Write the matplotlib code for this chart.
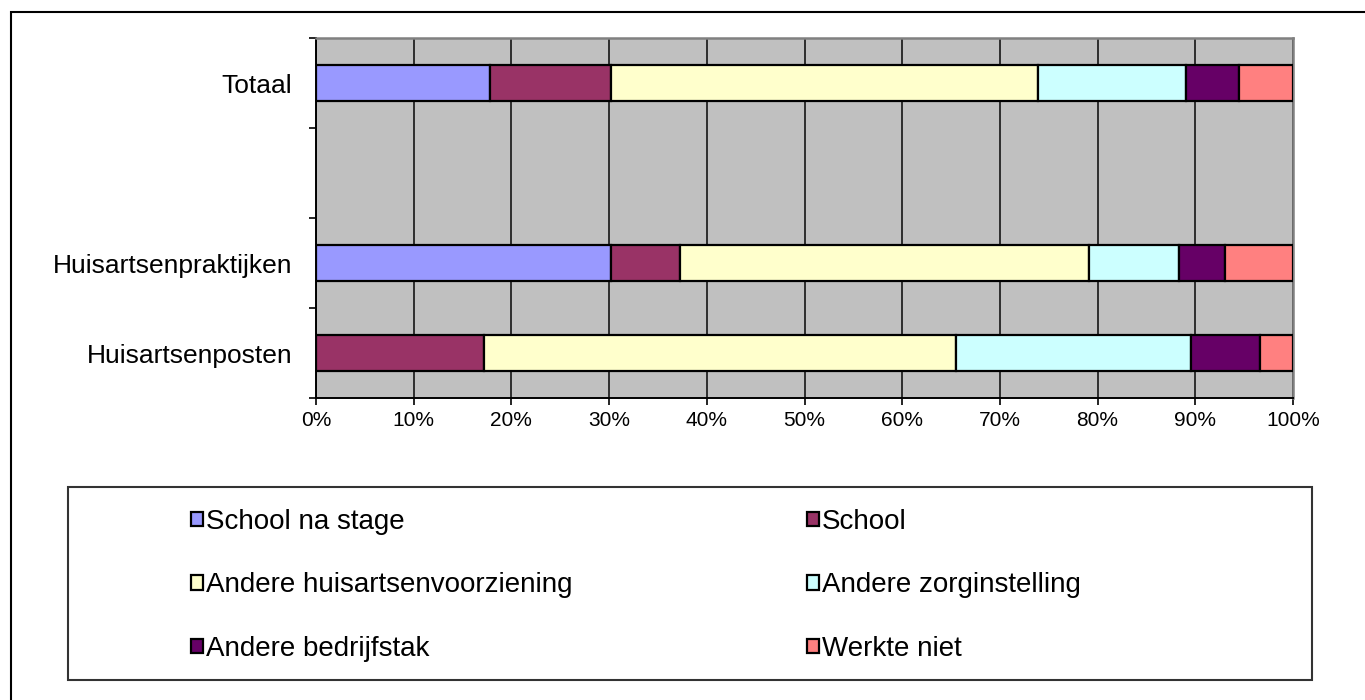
import matplotlib.pyplot as plt
import numpy as np
from matplotlib.patches import Rectangle

plt.rcParams['font.family'] = ['Liberation Sans', 'DejaVu Sans']

# row labels top to bottom; the second slot is empty in the original
rows = ['Totaal', '', 'Huisartsenpraktijken', 'Huisartsenposten']
series = ['School na stage', 'School', 'Andere huisartsenvoorziening',
          'Andere zorginstelling', 'Andere bedrijfstak', 'Werkte niet']
colors = ['#9999FF', '#993366', '#FFFFCC', '#CCFFFF', '#660066', '#FF8080']

# percentages per row (Totaal, Huisartsenpraktijken, Huisartsenposten)
school_na_stage = [17.8, 30.2, 0.0]
school = [12.4, 7.1, 17.2]
andere_huisarts = [43.7, 41.8, 48.3]
andere_zorg = [15.1, 9.2, 24.1]
andere_bedrijf = [5.5, 4.7, 7.0]
werkte_niet = [5.5, 7.0, 3.4]

values = [school_na_stage, school, andere_huisarts, andere_zorg,
          andere_bedrijf, werkte_niet]
filled = [i for i, r in enumerate(rows) if r]

fig = plt.figure(figsize=(13.65, 7.0), dpi=100)
W, H = 1365, 700
ax = fig.add_axes([316 / W, 1 - 398 / H, (1293 - 316) / W, (398 - 38) / H])
ax.set_facecolor('#C0C0C0')

left = np.zeros(len(filled))
for name, vals, col in zip(series, values, colors):
    vals = np.array(vals)
    ax.barh(filled, vals, left=left, height=0.41, color=col,
            edgecolor='black', linewidth=1.6, label=name, zorder=3)
    left += vals

ax.set_xlim(0, 100)
ax.set_ylim(len(rows) - 0.5, -0.5)
ax.set_xticks(np.arange(0, 101, 10))
ax.set_xticklabels([f'{v}%' for v in range(0, 101, 10)], fontsize=15)
ax.set_yticks(range(len(rows)))
ax.set_yticklabels(rows, fontsize=19)
ax.set_yticks(np.arange(-0.5, len(rows), 1.0), minor=True)
ax.tick_params(axis='y', which='major', length=0, pad=17)
ax.tick_params(axis='y', which='minor', length=5, width=1.2, direction='out')
ax.tick_params(axis='x', length=5, width=1.2, direction='out', pad=4)

ax.xaxis.grid(True, color='#222222', linewidth=1.3, zorder=0)
ax.set_axisbelow(True)
for s in ['left', 'bottom']:
    ax.spines[s].set_color('black')
    ax.spines[s].set_linewidth(1.4)
for s in ['top', 'right']:
    ax.spines[s].set_color('#808080')
    ax.spines[s].set_linewidth(1.8)

# outer chart border (runs off the right and bottom edge)
fig.patches.append(Rectangle((11 / W, -0.1), 1.2, 1.1 - 12 / H,
                             transform=fig.transFigure, fill=False,
                             edgecolor='black', linewidth=1.5))
# legend frame
fig.patches.append(Rectangle((68 / W, 1 - 680 / H), (1312 - 68) / W,
                             (680 - 487) / H, transform=fig.transFigure,
                             fill=False, edgecolor='#333333', linewidth=1.5))

# legend reads row by row in the original
handles, labels = ax.get_legend_handles_labels()
order = [0, 2, 4, 1, 3, 5]
leg = fig.legend([handles[i] for i in order], [labels[i] for i in order],
                 ncol=2, loc='upper left',
                 bbox_to_anchor=(191 / W, 1 - 509 / H), frameon=False,
                 fontsize=20, handlelength=0.42, handleheight=0.42,
                 handletextpad=0.12, labelspacing=1.35, columnspacing=8.45,
                 borderpad=0, borderaxespad=0)
for p in leg.get_patches():
    p.set_linewidth(1.6)

fig.savefig('out.png', dpi=100)
